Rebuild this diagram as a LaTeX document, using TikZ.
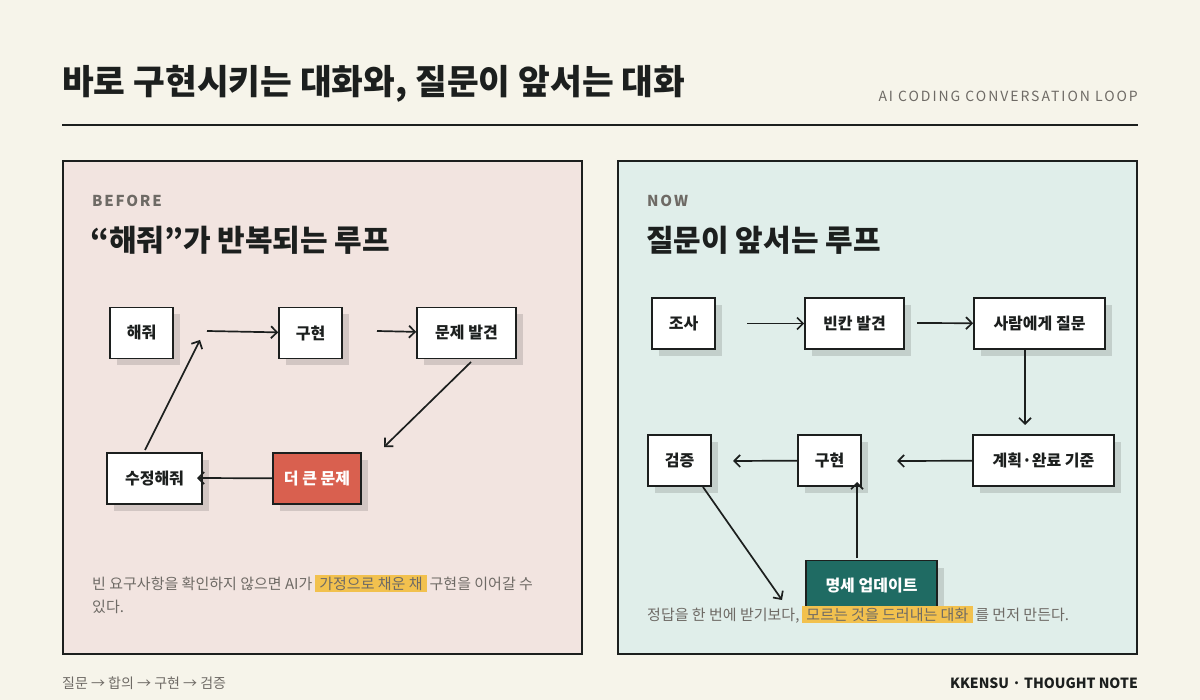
\documentclass[tikz,border=0pt]{standalone}
\usepackage{fontspec}
\setmainfont{Noto Sans CJK KR}
\usetikzlibrary{arrows.meta, positioning, shadows}
\definecolor{paper}{HTML}{F6F4EA}
\definecolor{ink}{HTML}{1C1F1E}
\definecolor{rosy}{HTML}{F2E4E0}
\definecolor{mint}{HTML}{E0EEEA}
\definecolor{brick}{HTML}{D9604F}
\definecolor{teal}{HTML}{1F6B63}
\definecolor{mute}{HTML}{6E6A65}
\definecolor{hl}{HTML}{F2C14E}
\newcommand{\hlt}[1]{\,{\setlength{\fboxsep}{2pt}\colorbox{hl}{\,#1\,}}\,}
\tikzset{
  stage/.style = {draw=ink, line width=1.6pt, fill=white, minimum height=51pt,
    font=\bfseries\fontsize{16}{16}\selectfont, text=ink, inner sep=0pt,
    drop shadow={shadow xshift=7pt, shadow yshift=-7pt, fill=black, opacity=0.13}},
  flow/.style = {draw=ink, line width=1.7pt, -{Straight Barb[length=6pt, width=12pt, line width=1.7pt]}},
  note/.style = {anchor=base west, font=\fontsize{15}{15}\selectfont, text=mute, inner sep=0pt},
}
\begin{document}
\begin{tikzpicture}[x=1pt, y=-1pt]
  \fill[paper] (0,0) rectangle (1200,700);
  \useasboundingbox (0,0) rectangle (1200,700);
  % header
  \node[anchor=base west, inner sep=0pt, text=ink, font=\bfseries\fontsize{34.5}{34.5}\selectfont] (title) at (62,95) {바로 구현시키는 대화와, 질문이 앞서는 대화};
  \node[anchor=base east, inner sep=0pt, text=mute, font=\fontsize{14}{14}\selectfont\addfontfeatures{LetterSpace=14}] (sub) at (1138,102) {AI CODING CONVERSATION LOOP};
  \draw[ink, line width=1.6pt] (62,125) -- (1138,125);
  % panels
  \draw[ink, line width=1.6pt, fill=rosy] (63,161) rectangle (582,654);
  \draw[ink, line width=1.6pt, fill=mint] (618,161) rectangle (1137,654);
  % before
  \node[anchor=base west, inner sep=0pt, text=mute, font=\bfseries\fontsize{15}{15}\selectfont\addfontfeatures{LetterSpace=12}] (tagb) at (92,207) {BEFORE};
  \node[anchor=base west, inner sep=0pt, text=ink, font=\bfseries\fontsize{30}{30}\selectfont] (headb) at (90,252) {“해줘”가 반복되는 루프};
  \node[stage, minimum width=63pt] (ask) at (141.5,333) {해줘};
  \node[stage, minimum width=63pt] (impl) at (310.5,333) {구현};
  \node[stage, minimum width=99pt] (bug) at (466.5,333) {문제 발견};
  \node[stage, minimum width=95pt] (fix) at (154.5,478.5) {수정해줘};
  \node[stage, minimum width=88pt, fill=brick, text=white] (worse) at (317,478.5) {더 큰 문제};
  \draw[flow] (207,331) -- (impl);
  \draw[flow] (377,331) -- (bug);
  \draw[flow] (471,362) -- (384,447);
  \draw[flow] (worse) -- (197,478);
  \draw[flow] (145,450) -- (200,340);
  \node[note] (noteb) at (92,589) {빈 요구사항을 확인하지 않으면 AI가\hlt{가정으로 채운 채}구현을 이어갈 수};
  \node[note] (noteb2) at (92,612) {있다.};
  % now
  \node[anchor=base west, inner sep=0pt, text=mute, font=\bfseries\fontsize{15}{15}\selectfont\addfontfeatures{LetterSpace=12}] (tagn) at (647,207) {NOW};
  \node[anchor=base west, inner sep=0pt, text=ink, font=\bfseries\fontsize{30}{30}\selectfont] (headn) at (646,252) {질문이 앞서는 루프};
  \node[stage, minimum width=63pt] (look) at (683.5,323.5) {조사};
  \node[stage, minimum width=99pt] (gap) at (854.5,323.5) {빈칸 발견};
  \node[stage, minimum width=131pt] (query) at (1039.5,323.5) {사람에게 질문};
  \node[stage, minimum width=141pt] (plan) at (1043.5,460.5) {계획·완료 기준};
  \node[stage, minimum width=63pt] (build) at (829.5,460.5) {구현};
  \node[stage, minimum width=63pt] (check) at (679.5,460.5) {검증};
  \node[stage, minimum width=131pt, fill=teal, text=white] (spec) at (871.5,586) {명세 업데이트};
  \coordinate (qtip) at (1025,425);
  \draw[flow] (look.east -| 747,0) -- (gap);
  \draw[flow] (917,323) -- (query);
  \draw[flow] (query.south -| qtip) -- (qtip);
  \draw[flow] (plan) -- (897,461);
  \draw[flow] (build) -- (733,461);
  \draw[flow] (857,558) -- (857,482);
  \draw[flow] (703,487) -- (782,600);
  \node[note] (noten) at (647,620) {정답을 한 번에 받기보다,\hlt{모르는 것을 드러내는 대화}를 먼저 만든다.};
  % footer
  \node[anchor=base west, inner sep=0pt, text=mute, font=\fontsize{14}{14}\selectfont] (foot) at (62,688) {질문 → 합의 → 구현 → 검증};
  \node[anchor=base east, inner sep=0pt, text=ink, font=\bfseries\fontsize{14}{14}\selectfont] (brand) at (1138,688) {KKENSU · THOUGHT NOTE};
\end{tikzpicture}
\end{document}
